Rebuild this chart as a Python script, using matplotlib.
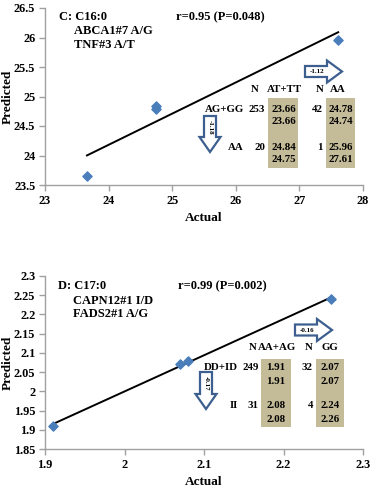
import numpy as np
import matplotlib
matplotlib.use("Agg")
import matplotlib.pyplot as plt
from matplotlib.patches import FancyArrow, Rectangle

plt.rcParams['font.family'] = ['Liberation Serif', 'DejaVu Serif']
plt.rcParams['font.weight'] = 'bold'

# Panel C data
c_actual = [23.66, 24.74, 24.75, 27.61]
c_pred = [23.66, 24.78, 24.84, 25.96]
c_title = ["C: C16:0", "ABCA1#7 A/G", "TNF#3 A/T"]
c_stat = "r=0.95 (P=0.048)"
c_cols = ["AT+TT", "AA"]
c_rows = ["AG+GG", "AA"]
c_n_rows = [253, 20]
c_n_cols = [42, 1]
c_cells = [["23.66\n23.66", "24.78\n24.74"], ["24.84\n24.75", "25.96\n27.61"]]
c_arrows = ["-1.18", "-1.12"]
c_xticks = [23, 24, 25, 26, 27, 28]
c_yticks = [23.5, 24, 24.5, 25, 25.5, 26, 26.5]

# Panel D data
d_actual = [1.91, 2.07, 2.08, 2.26]
d_pred = [1.91, 2.07, 2.08, 2.24]
d_title = ["D: C17:0", "CAPN12#1 I/D", "FADS2#1 A/G"]
d_stat = "r=0.99 (P=0.002)"
d_cols = ["AA+AG", "GG"]
d_rows = ["DD+ID", "II"]
d_n_rows = [249, 31]
d_n_cols = [32, 4]
d_cells = [["1.91\n1.91", "2.07\n2.07"], ["2.08\n2.08", "2.24\n2.26"]]
d_arrows = ["-0.17", "-0.16"]
d_xticks = [1.9, 2.0, 2.1, 2.2, 2.3]
d_yticks = [1.85, 1.9, 1.95, 2.0, 2.05, 2.1, 2.15, 2.2, 2.25, 2.3]

W, H = 374, 488
fig = plt.figure(figsize=(W / 100, H / 100), dpi=100)

BEIGE = '#c4bb98'
BLUE = '#4a7ebb'
ARROW = '#3d5f8f'
AX_L = 45


def px(x, y):
    """pixel coords (from top-left) -> figure fraction"""
    return x / W, 1 - y / H


def panel(rect, actual, pred, xticks, yticks, xlim, ylim, title, stat,
          cols, rows, nrows, ncols, cells, arrows, lay, xfmt):
    ax = fig.add_axes(rect)
    ax.scatter(actual, pred, marker='D', s=22, color=BLUE, zorder=3)
    m, b = np.polyfit(actual, pred, 1)
    xs = np.array([min(actual), max(actual)])
    ax.plot(xs, m * xs + b, color='black', lw=1.4, zorder=2)
    ax.set_xlim(*xlim)
    ax.set_ylim(*ylim)
    ax.set_xticks(xticks)
    ax.set_yticks(yticks)
    ax.set_xticklabels([xfmt(t) for t in xticks], fontsize=8.8, fontweight='bold')
    ax.set_yticklabels([xfmt(t) for t in yticks], fontsize=8.8, fontweight='bold')
    for s in ['top', 'right']:
        ax.spines[s].set_visible(False)
    for s in ['left', 'bottom']:
        ax.spines[s].set_color('#a0a0a0')
        ax.spines[s].set_linewidth(1.0)
    ax.tick_params(direction='out', length=4, color='#a0a0a0', width=1.0, pad=3)
    ax.set_xlabel("Actual", fontsize=9.5, fontweight='bold', labelpad=4)
    ax.set_ylabel("Predicted", fontsize=9.5, fontweight='bold')
    ax.yaxis.label.set_va('center')
    ax.yaxis.set_label_coords((8 - AX_L) / (rect[2] * W), 0.5)

    fs = 7.8
    # title
    fig.text(*px(lay['tx'], lay['ty']), title[0], fontsize=9, fontweight='bold', va='center')
    fig.text(*px(lay['tx'] + 15, lay['ty'] + 14.5), title[1], fontsize=9, fontweight='bold', va='center')
    fig.text(*px(lay['tx'] + 15, lay['ty'] + 28), title[2], fontsize=9, fontweight='bold', va='center')
    fig.text(*px(lay['sx'], lay['ty']), stat, fontsize=9, fontweight='bold', va='center')

    # beige rects
    for rx in lay['rect_x']:
        x0, y0 = px(rx[0], lay['rect_y'][1])
        x1, y1 = px(rx[1], lay['rect_y'][0])
        fig.patches.append(Rectangle((x0, y0), x1 - x0, y1 - y0, transform=fig.transFigure,
                                     facecolor=BEIGE, edgecolor='none', zorder=1))
    # header
    hy = lay['hy']
    fig.text(*px(lay['hN1'], hy), "N", fontsize=fs, fontweight='bold', va='center', ha='right')
    fig.text(*px(lay['hc1'], hy), cols[0], fontsize=fs, fontweight='bold', va='center', ha='center')
    fig.text(*px(lay['hN2'], hy), "N", fontsize=fs, fontweight='bold', va='center', ha='right')
    fig.text(*px(lay['hc2'], hy), cols[1], fontsize=fs, fontweight='bold', va='center', ha='center')
    for i in range(2):
        y1 = lay['row_y'][i]
        fig.text(*px(lay['rowlab_x'], y1), rows[i], fontsize=fs, fontweight='bold', va='center', ha='right')
        fig.text(*px(lay['nrow_x'], y1), str(nrows[i]), fontsize=fs, fontweight='bold', va='center', ha='right')
        fig.text(*px(lay['ncol_x'], y1), str(ncols[i]), fontsize=fs, fontweight='bold', va='center', ha='right')
        for j in range(2):
            a, bb = cells[i][j].split("\n")
            cx = lay['cell_x'][j]
            fig.text(*px(cx, y1), a, fontsize=fs, fontweight='bold', va='center', ha='center')
            fig.text(*px(cx, y1 + 13), bb, fontsize=fs, fontweight='bold', va='center', ha='center')

    # down arrow
    dx0, dy0, dy1 = lay['darrow']
    sx0, sy0 = px(dx0, dy0)
    _, sy1 = px(dx0, dy1)
    fig.patches.append(FancyArrow(sx0, sy0, 0, sy1 - sy0, width=12 / W, head_width=21 / W,
                                  head_length=15 / H, length_includes_head=True,
                                  transform=fig.transFigure, facecolor='white',
                                  edgecolor=ARROW, lw=1.6, zorder=4))
    fig.text(*px(dx0, dy0 + 11), arrows[0], fontsize=5, fontweight='bold', rotation=-90,
             ha='center', va='center', zorder=5)
    # right arrow
    rx0, rx1, ry = lay['rarrow']
    ax0, ay = px(rx0, ry)
    ax1, _ = px(rx1, ry)
    fig.patches.append(FancyArrow(ax0, ay, ax1 - ax0, 0, width=11 / H, head_width=22 / H,
                                  head_length=15 / W, length_includes_head=True,
                                  transform=fig.transFigure, facecolor='white',
                                  edgecolor=ARROW, lw=1.6, zorder=4))
    fig.text(*px(rx0 + 12, ry), arrows[1], fontsize=5, fontweight='bold',
             ha='center', va='center', zorder=5)
    return ax


fmt_c = lambda t: f"{t:g}"
fmt_d = lambda t: f"{t:g}"

lay_c = dict(tx=59, ty=17, sx=176, rect_x=[(268, 298), (326, 355)], rect_y=(98, 168),
             hy=89, hN1=259, hc1=284.5, hN2=324, hc2=338,
             row_y=[109, 147], rowlab_x=244, nrow_x=265, ncol_x=323,
             cell_x=[284, 340.5], darrow=(210, 116, 152), rarrow=(305, 342, 71.5))
panel([AX_L / W, 1 - 185 / H, 318 / W, 177 / H], c_actual, c_pred, c_xticks, c_yticks,
      (23, 28), (23.5, 26.5), c_title, c_stat, c_cols, c_rows, c_n_rows, c_n_cols,
      c_cells, c_arrows, lay_c, fmt_c)

lay_d = dict(tx=58, ty=286, sx=178, rect_x=[(261, 291), (316, 344)], rect_y=(359, 427),
             hy=348, hN1=257, hc1=277.5, hN2=313, hc2=329.5,
             row_y=[368, 406], rowlab_x=238, nrow_x=259, ncol_x=313,
             cell_x=[276, 330], darrow=(206, 372, 409), rarrow=(295, 332, 330))
panel([AX_L / W, 1 - 449 / H, 318 / W, 173 / H], d_actual, d_pred, d_xticks, d_yticks,
      (1.9, 2.3), (1.85, 2.3), d_title, d_stat, d_cols, d_rows, d_n_rows, d_n_cols,
      d_cells, d_arrows, lay_d, fmt_d)

fig.savefig("out.png", dpi=100)
